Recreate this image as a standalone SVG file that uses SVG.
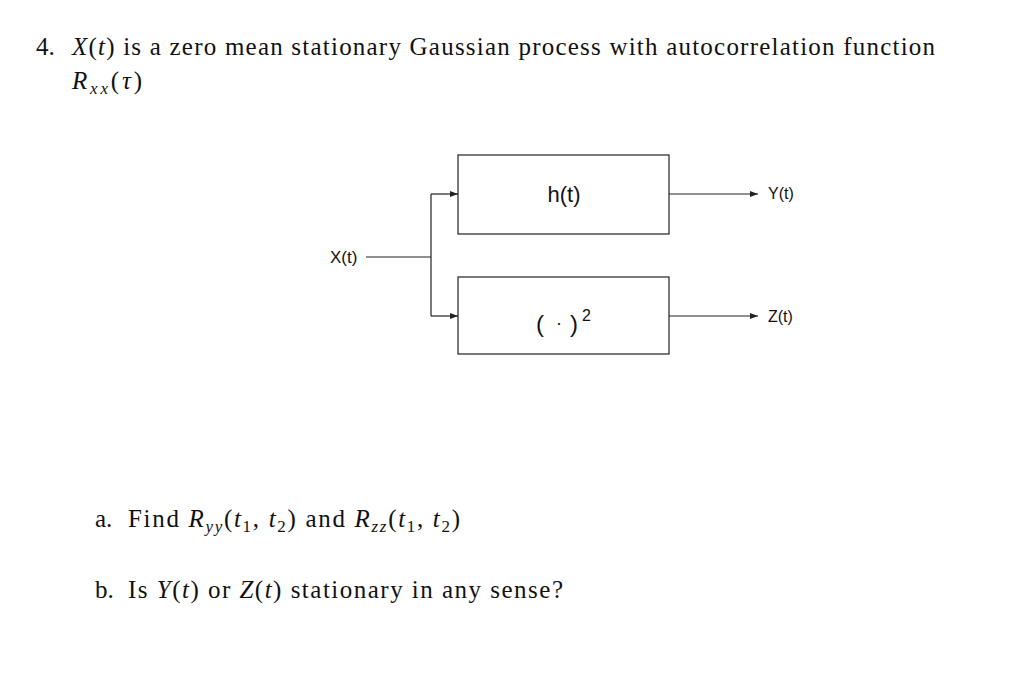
<svg xmlns="http://www.w3.org/2000/svg" width="1024" height="690" viewBox="0 0 1024 690">
<style>
.t{font-family:"Liberation Serif",serif;font-size:25px;fill:#111}
.i{font-style:italic}
.s{font-family:"Liberation Sans",Arial,sans-serif;fill:#111}
.box{fill:#fff;stroke:#222;stroke-width:1.2}
.ln{fill:none;stroke:#222;stroke-width:1.2}
</style>
<defs><marker id="a" markerWidth="8" markerHeight="6" refX="8" refY="3" orient="auto" markerUnits="userSpaceOnUse"><path d="M0,0 L8,3 L0,6 Z" fill="#222"/></marker></defs>
<rect width="1024" height="690" fill="#fff"/>
<text class="t" x="36" y="55">4.</text>
<text class="t" x="72" y="55" textLength="863" lengthAdjust="spacing"><tspan class="i">X</tspan>(<tspan class="i">t</tspan>) is a zero mean stationary Gaussian process with autocorrelation function</text>
<text class="t" x="72" y="89" textLength="70" lengthAdjust="spacing"><tspan class="i">R</tspan><tspan class="i" font-size="17" dy="5">xx</tspan><tspan dy="-5">(</tspan><tspan class="i">τ</tspan>)</text>
<g id="n1"><rect class="box" x="458" y="155" width="211" height="79"/><text class="s" x="564" y="202" font-size="22" text-anchor="middle">h(t)</text></g>
<g id="n2"><rect class="box" x="458" y="277" width="211" height="77"/><text class="s" x="536" y="332" font-size="24">(</text><text class="s" x="556" y="329" font-size="18">·</text><text class="s" x="570" y="332" font-size="24">)</text><text class="s" x="582" y="321" font-size="16">2</text></g>
<g id="lx"><text class="s" x="330" y="263" font-size="17">X(t)</text></g>
<g id="ly"><text class="s" x="768" y="199" font-size="16">Y(t)</text></g>
<g id="lz"><text class="s" x="768" y="322" font-size="16">Z(t)</text></g>
<g id="connectors">
<path class="ln" d="M366,257 H431"/>
<path class="ln" d="M431,194 V316"/>
<path class="ln" d="M431,194 H458" marker-end="url(#a)"/>
<path class="ln" d="M431,316 H458" marker-end="url(#a)"/>
<path class="ln" d="M669,194 H758" marker-end="url(#a)"/>
<path class="ln" d="M669,316 H758" marker-end="url(#a)"/>
</g>
<text class="t" x="95" y="527">a.</text>
<text class="t" x="128" y="527" textLength="332" lengthAdjust="spacing">Find <tspan class="i">R</tspan><tspan class="i" font-size="17" dy="5">yy</tspan><tspan dy="-5">(</tspan><tspan class="i">t</tspan><tspan font-size="17" dy="5">1</tspan><tspan dy="-5">, </tspan><tspan class="i">t</tspan><tspan font-size="17" dy="5">2</tspan><tspan dy="-5">) and </tspan><tspan class="i">R</tspan><tspan class="i" font-size="17" dy="5">zz</tspan><tspan dy="-5">(</tspan><tspan class="i">t</tspan><tspan font-size="17" dy="5">1</tspan><tspan dy="-5">, </tspan><tspan class="i">t</tspan><tspan font-size="17" dy="5">2</tspan><tspan dy="-5">)</tspan></text>
<text class="t" x="95" y="598">b.</text>
<text class="t" x="128" y="598" textLength="435" lengthAdjust="spacing">Is <tspan class="i">Y</tspan>(<tspan class="i">t</tspan>) or <tspan class="i">Z</tspan>(<tspan class="i">t</tspan>) stationary in any sense?</text>
</svg>
